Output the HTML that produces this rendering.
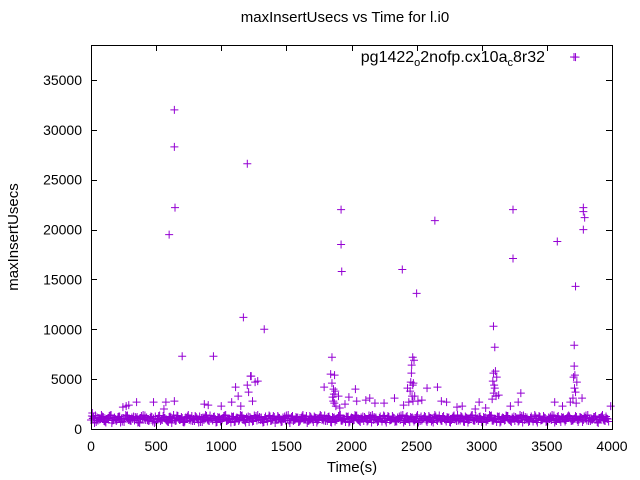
<!DOCTYPE html>
<html><head><meta charset="utf-8"><style>
body{margin:0;background:#fff}
svg{display:block;font-family:"Liberation Sans",sans-serif}
</style></head><body>
<svg id="chart" width="640" height="480" viewBox="0 0 640 480">
<rect width="640" height="480" fill="#fff"/>
<text x="345" y="22" font-size="15" text-anchor="middle">maxInsertUsecs vs Time for l.i0</text>
<text transform="translate(18,237) rotate(-90)" font-size="15" text-anchor="middle">maxInsertUsecs</text>
<text x="352" y="472" font-size="15" text-anchor="middle">Time(s)</text>
<g id="marks"></g>
<rect x="91.5" y="45.5" width="521" height="384" fill="none" stroke="#000" stroke-width="1"/>
<g id="axes"></g>
<g>
<text x="545" y="62" font-size="16" text-anchor="end">pg1422<tspan font-size="11" dy="4">o</tspan><tspan dy="-4">2nofp.cx10a</tspan><tspan font-size="11" dy="4">c</tspan><tspan dy="-4">8r32</tspan></text>
<path d="M570 57h8M574 53v8" stroke="#9400d3" stroke-width="1"/>
</g>
</svg>
<script>
const xTicks=[0,500,1000,1500,2000,2500,3000,3500,4000];
const yTicks=[0,5000,10000,15000,20000,25000,30000,35000];
const baseVals=[900,1200,700,1100,1400,800,1000,1300,600,1150,950,1250,750,1050,1350,850,1000,1200,650,1100,1400,900,800,1250,1050,700,1300,950,1150,850,1200,600,1000,1350,900,1100,750,1250,1050,800,1300,950,700,1150,1400,850,1000,1200,650,1100,900,1300,800,1050,1250,700,1150,950,1350,850,1000,1200,750,1100,1400,900,650,1250,1050,800,1300,950,1150,700,1000,1350,850,1200,900,1100,750,1250,1050,600,1300,950,1150,850,1400,1000,800,1200,700,1100,950,1300,850,1050,1250,650,1150,900,1350,800,1000,1200,750,1100,1400,950,700,1250,1050,850,1300,900,1150,800,1000,1350,650,1200,950,1100,750,1250,1050,850,1300,700,1150,900,1400,800,1000,1200,950,1100,650,1250,1050,850,1300,750,1150,900,1350,800,1000,1200,700,1100,950,1400,850,1050,1250,650,1150,900,1300,800,1000,1200,750,1100,1350,950,700,1250,1050,850,1300,900,1150,800,1000,1400,650,1200,950,1100,750,1250,1050,850,1300,700,1150,900,1350,800,1000,1200,950,1100,1250,850,1050];
const baseStep=20;
const outTimes=[600,640,640,645,700,940,1170,1200,1230,1260,1330,1850,1920,1920,1925,2390,2500,2640,2470,3090,3100,3240,3240,3580,3710,3720,3780,3780,3790,3780,3720];
const outVals=[19500,32000,28300,22200,7300,7300,11200,26600,5300,4700,10000,7200,22000,18500,15800,16000,13600,20900,7200,10300,8200,22000,17100,18800,8400,14300,22200,21800,21200,20000,37300];
const midTimes=[10,245,270,290,350,480,560,575,640,870,900,1000,1080,1110,1130,1150,1200,1210,1225,1240,1280,1790,1840,1850,1855,1860,1862,1865,1868,1870,1875,1880,1900,1910,1950,1980,2030,2040,2110,2140,2180,2250,2330,2400,2430,2440,2450,2455,2460,2462,2465,2470,2472,2475,2480,2485,2510,2540,2580,2660,2690,2730,2810,2850,2950,2980,3030,3080,3085,3090,3092,3095,3100,3105,3110,3115,3130,3220,3280,3300,3560,3620,3680,3700,3705,3710,3712,3715,3720,3725,3730,3770,3990];
const midVals=[1600,2200,2300,2400,2700,2700,2000,2700,2800,2500,2400,2300,2700,4200,3300,2300,4400,3700,5300,2800,4800,4200,5500,4600,3200,2800,4000,3500,2600,5400,3800,2300,3300,2100,2500,3200,4000,2800,2900,3100,2600,2600,3100,2400,4100,2700,3800,4700,5600,6400,3300,4400,2800,4600,6900,3300,2800,2900,4100,4200,2800,2700,2200,2300,2000,2700,2100,3000,4800,5600,3600,4400,4100,5800,3300,5200,3400,2300,2700,3600,2700,2300,2700,3100,5200,6300,4100,5400,3700,2600,4700,3100,2300];
const X=t=>91+t*0.13025;
const Y=v=>429-v*0.009971;
const NS="http://www.w3.org/2000/svg";
const g=document.getElementById('marks');
const ax=document.getElementById('axes');
function plus(t,v){
  const p=document.createElementNS(NS,'path');
  const x=X(t),y=Y(v);
  p.setAttribute('d',`M${x-4} ${y}h8M${x} ${y-4}v8`);
  p.setAttribute('stroke','#9400d3');p.setAttribute('stroke-width','1');p.setAttribute('fill','none');
  
  
  g.appendChild(p);
}
baseVals.forEach((v,i)=>plus(i*baseStep,v));
baseVals.forEach((v,i)=>plus(i*baseStep+7,baseVals[(i+7)%baseVals.length]));
baseVals.forEach((v,i)=>plus(i*baseStep+14,baseVals[(i+13)%baseVals.length]));
midTimes.forEach((t,i)=>plus(t,midVals[i]));
outTimes.forEach((t,i)=>plus(t,outVals[i]));
function line(d,name){const p=document.createElementNS(NS,'path');p.setAttribute('d',d);p.setAttribute('stroke','#000');p.setAttribute('fill','none');


ax.appendChild(p);}
function txt(x,y,s,anchor,name){const e=document.createElementNS(NS,'text');e.setAttribute('x',x);e.setAttribute('y',y);e.setAttribute('font-size','14');e.setAttribute('text-anchor',anchor);e.textContent=s;


ax.appendChild(e);}
xTicks.forEach(t=>{const x=Math.round(X(t))+0.5;line(`M${x} 429v-6M${x} 45v6`,'x-tick');txt(X(t),451,String(t),'middle','x-tick-label');});
yTicks.forEach(v=>{const y=Math.round(Y(v))+0.5;line(`M91 ${y}h6M612 ${y}h-6`,'y-tick');txt(82,Y(v)+5,String(v),'end','y-tick-label');});
</script>
</body></html>
